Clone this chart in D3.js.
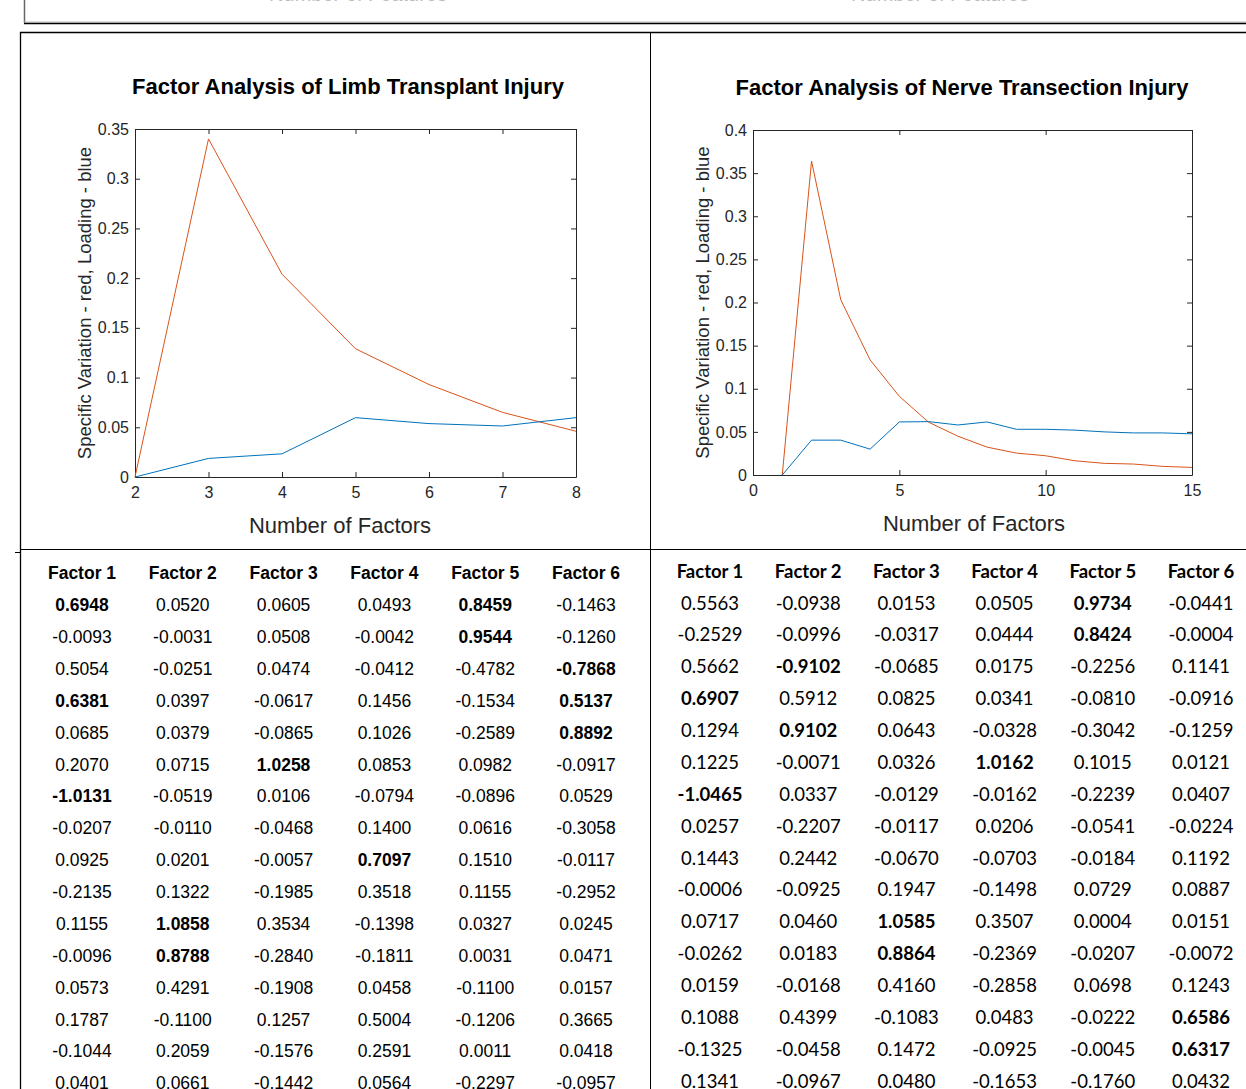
<!DOCTYPE html>
<meta charset="utf-8">
<script src="https://d3js.org/d3.v7.min.js"></script>
<style>
  body { margin: 0; background: #fff; }
  svg { display: block; }
  .tick text { fill: #262626; }
</style>
<body>
<div id="fig"></div>
<script>

// ---- chart data ----
var limbFactors = [2, 3, 4, 5, 6, 7, 8];
var limbSpecVar = [0, 0.340, 0.204, 0.129, 0.093, 0.065, 0.046];
var limbLoading = [0, 0.0187, 0.0233, 0.0597, 0.0537, 0.0513, 0.0597];
var limbXTicks = [2, 3, 4, 5, 6, 7, 8];
var limbYTicks = [0, 0.05, 0.1, 0.15, 0.2, 0.25, 0.3, 0.35];

var nerveFactors = [1, 2, 3, 4, 5, 6, 7, 8, 9, 10, 11, 12, 13, 14, 15];
var nerveSpecVar = [0, 0.364, 0.203, 0.1335, 0.0912, 0.0612, 0.045, 0.0323, 0.0254, 0.0223, 0.0165, 0.0135, 0.0127, 0.0100, 0.0088];
var nerveLoading = [0, 0.0404, 0.0404, 0.030, 0.0615, 0.0619, 0.058, 0.0615, 0.053, 0.053, 0.052, 0.050, 0.0488, 0.0488, 0.0477];
var nerveXTicks = [0, 5, 10, 15];
var nerveYTicks = [0, 0.05, 0.1, 0.15, 0.2, 0.25, 0.3, 0.35, 0.4];

// ---- table data ----
var tableHeaders = ["Factor 1", "Factor 2", "Factor 3", "Factor 4", "Factor 5", "Factor 6"];

var limbTable = [
  ["0.6948", "0.0520", "0.0605", "0.0493", "0.8459", "-0.1463"],
  ["-0.0093", "-0.0031", "0.0508", "-0.0042", "0.9544", "-0.1260"],
  ["0.5054", "-0.0251", "0.0474", "-0.0412", "-0.4782", "-0.7868"],
  ["0.6381", "0.0397", "-0.0617", "0.1456", "-0.1534", "0.5137"],
  ["0.0685", "0.0379", "-0.0865", "0.1026", "-0.2589", "0.8892"],
  ["0.2070", "0.0715", "1.0258", "0.0853", "0.0982", "-0.0917"],
  ["-1.0131", "-0.0519", "0.0106", "-0.0794", "-0.0896", "0.0529"],
  ["-0.0207", "-0.0110", "-0.0468", "0.1400", "0.0616", "-0.3058"],
  ["0.0925", "0.0201", "-0.0057", "0.7097", "0.1510", "-0.0117"],
  ["-0.2135", "0.1322", "-0.1985", "0.3518", "0.1155", "-0.2952"],
  ["0.1155", "1.0858", "0.3534", "-0.1398", "0.0327", "0.0245"],
  ["-0.0096", "0.8788", "-0.2840", "-0.1811", "0.0031", "0.0471"],
  ["0.0573", "0.4291", "-0.1908", "0.0458", "-0.1100", "0.0157"],
  ["0.1787", "-0.1100", "0.1257", "0.5004", "-0.1206", "0.3665"],
  ["-0.1044", "0.2059", "-0.1576", "0.2591", "0.0011", "0.0418"],
  ["0.0401", "0.0661", "-0.1442", "0.0564", "-0.2297", "-0.0957"]
];
// [row, column] of the highlighted loadings
var limbBold = [[0, 0], [0, 4], [1, 4], [2, 5], [3, 0], [3, 5], [4, 5], [5, 2], [6, 0], [8, 3], [10, 1], [11, 1]];

var nerveTable = [
  ["0.5563", "-0.0938", "0.0153", "0.0505", "0.9734", "-0.0441"],
  ["-0.2529", "-0.0996", "-0.0317", "0.0444", "0.8424", "-0.0004"],
  ["0.5662", "-0.9102", "-0.0685", "0.0175", "-0.2256", "0.1141"],
  ["0.6907", "0.5912", "0.0825", "0.0341", "-0.0810", "-0.0916"],
  ["0.1294", "0.9102", "0.0643", "-0.0328", "-0.3042", "-0.1259"],
  ["0.1225", "-0.0071", "0.0326", "1.0162", "0.1015", "0.0121"],
  ["-1.0465", "0.0337", "-0.0129", "-0.0162", "-0.2239", "0.0407"],
  ["0.0257", "-0.2207", "-0.0117", "0.0206", "-0.0541", "-0.0224"],
  ["0.1443", "0.2442", "-0.0670", "-0.0703", "-0.0184", "0.1192"],
  ["-0.0006", "-0.0925", "0.1947", "-0.1498", "0.0729", "0.0887"],
  ["0.0717", "0.0460", "1.0585", "0.3507", "0.0004", "0.0151"],
  ["-0.0262", "0.0183", "0.8864", "-0.2369", "-0.0207", "-0.0072"],
  ["0.0159", "-0.0168", "0.4160", "-0.2858", "0.0698", "0.1243"],
  ["0.1088", "0.4399", "-0.1083", "0.0483", "-0.0222", "0.6586"],
  ["-0.1325", "-0.0458", "0.1472", "-0.0925", "-0.0045", "0.6317"],
  ["0.1341", "-0.0967", "0.0480", "-0.1653", "-0.1760", "0.0432"]
];
var nerveBold = [[0, 4], [1, 4], [2, 1], [3, 0], [4, 1], [5, 3], [6, 0], [10, 2], [11, 2], [13, 5], [14, 5]];

var W = 1246, H = 1089;
var blue = "#0072BD", red = "#D95319", axisCol = "#262626";

var svg = d3.select("#fig").append("svg")
  .attr("width", W).attr("height", H);

// ---- frame lines of the figure panel ----
// the cut-off panel above
svg.append("text").attr("x", 358).attr("y", 1).attr("text-anchor", "middle")
  .style("font", "20px 'Liberation Sans', Arial").style("fill", "#bbb").text("Number of Features");
svg.append("text").attr("x", 940).attr("y", 1).attr("text-anchor", "middle")
  .style("font", "20px 'Liberation Sans', Arial").style("fill", "#bbb").text("Number of Features");
svg.append("line").attr("x1", 24.5).attr("x2", 24.5).attr("y1", 0).attr("y2", 23)
  .attr("stroke", "#666").attr("stroke-width", 1.5);
svg.append("line").attr("x1", 24).attr("x2", W).attr("y1", 22).attr("y2", 22)
  .attr("stroke", "#bbb").attr("stroke-width", 1);
svg.append("line").attr("x1", 24).attr("x2", W).attr("y1", 23.5).attr("y2", 23.5)
  .attr("stroke", "#000").attr("stroke-width", 1.5);

svg.append("line").attr("x1", 20).attr("x2", W).attr("y1", 32.5).attr("y2", 32.5)
  .attr("stroke", "#000").attr("stroke-width", 1.5);
svg.append("line").attr("x1", 20.5).attr("x2", 20.5).attr("y1", 32).attr("y2", H)
  .attr("stroke", "#000").attr("stroke-width", 1.3);
svg.append("line").attr("x1", 650.5).attr("x2", 650.5).attr("y1", 32).attr("y2", H)
  .attr("stroke", "#000").attr("stroke-width", 1);
svg.append("line").attr("x1", 20).attr("x2", W).attr("y1", 549.5).attr("y2", 549.5)
  .attr("stroke", "#000").attr("stroke-width", 1.2);
svg.append("line").attr("x1", 15).attr("x2", 20).attr("y1", 552.5).attr("y2", 552.5)
  .attr("stroke", "#000").attr("stroke-width", 1);

// ---- line charts ----
function drawChart(cfg) {
  var x = d3.scaleLinear().domain(cfg.xDomain).range([cfg.left, cfg.right]);
  var y = d3.scaleLinear().domain(cfg.yDomain).range([cfg.bottom, cfg.top]);
  var g = svg.append("g");
  var fmt = function(d) { return String(+d.toFixed(2)); };

  g.append("g").attr("transform", "translate(0," + cfg.bottom + ")")
    .call(d3.axisBottom(x).tickValues(cfg.xTicks).tickSize(-5).tickSizeOuter(0).tickPadding(10).tickFormat(fmt));
  g.append("g").attr("transform", "translate(" + cfg.left + ",0)")
    .call(d3.axisLeft(y).tickValues(cfg.yTicks).tickSize(-5).tickSizeOuter(0).tickPadding(6).tickFormat(fmt));
  g.append("g").attr("transform", "translate(0," + cfg.top + ")")
    .call(d3.axisTop(x).tickValues(cfg.xTicks).tickSize(-5).tickSizeOuter(0).tickFormat(""));
  g.append("g").attr("transform", "translate(" + cfg.right + ",0)")
    .call(d3.axisRight(y).tickValues(cfg.yTicks).tickSize(-5).tickSizeOuter(0).tickFormat(""));

  g.selectAll(".domain, .tick line").attr("stroke", axisCol).attr("stroke-width", 1);
  g.selectAll(".tick text").style("font", "16px 'Liberation Sans', Arial");

  var line = d3.line().x(function(d) { return x(d[0]); }).y(function(d) { return y(d[1]); });
  g.append("path").datum(d3.zip(cfg.xs, cfg.specVar))
    .attr("d", line).attr("fill", "none").attr("stroke", red).attr("stroke-width", 1);
  g.append("path").datum(d3.zip(cfg.xs, cfg.loading))
    .attr("d", line).attr("fill", "none").attr("stroke", blue).attr("stroke-width", 1);

  g.append("text").attr("x", cfg.titleX).attr("y", cfg.top - 35).attr("text-anchor", "middle")
    .style("font", "bold 22px 'Liberation Sans', Arial").style("fill", "#000").text(cfg.title);
  g.append("text").attr("x", cfg.xLabelX).attr("y", cfg.bottom + 56).attr("text-anchor", "middle")
    .style("font", "22px 'Liberation Sans', Arial").style("fill", axisCol).text("Number of Factors");
  g.append("text")
    .attr("transform", "translate(" + (cfg.left - 44) + "," + ((cfg.top + cfg.bottom) / 2) + ") rotate(-90)")
    .attr("text-anchor", "middle")
    .style("font", "18.5px 'Liberation Sans', Arial").style("fill", axisCol)
    .text("Specific Variation - red, Loading - blue");
}

drawChart({
  left: 135, right: 576, top: 129, bottom: 477,
  xDomain: [2, 8], yDomain: [0, 0.35],
  xTicks: limbXTicks, yTicks: limbYTicks,
  xs: limbFactors, specVar: limbSpecVar, loading: limbLoading,
  title: "Factor Analysis of Limb Transplant Injury", titleX: 348, xLabelX: 340
});

drawChart({
  left: 753, right: 1192, top: 130, bottom: 475,
  xDomain: [0, 15], yDomain: [0, 0.4],
  xTicks: nerveXTicks, yTicks: nerveYTicks,
  xs: nerveFactors, specVar: nerveSpecVar, loading: nerveLoading,
  title: "Factor Analysis of Nerve Transection Injury", titleX: 962, xLabelX: 974
});

// ---- loading tables ----
function drawTable(cfg) {
  var col = d3.scalePoint().domain(d3.range(tableHeaders.length)).range(cfg.cols);
  var row = d3.scalePoint().domain(d3.range(cfg.rows.length + 1)).range(cfg.rowsY);
  var boldSet = new Set(cfg.bold.map(function(b) { return b[0] + "," + b[1]; }));
  var g = svg.append("g").style("font-family", cfg.font).style("font-size", cfg.size + "px");

  g.selectAll("text.hdr").data(tableHeaders).enter().append("text")
    .attr("class", "hdr")
    .attr("x", function(d, i) { return col(i); })
    .attr("y", row(0)).attr("dy", "0.36em")
    .attr("text-anchor", "middle").style("font-weight", "bold")
    .text(function(d) { return d; });

  var cells = [];
  cfg.rows.forEach(function(r, ri) {
    r.forEach(function(v, ci) { cells.push({ r: ri, c: ci, v: v }); });
  });
  g.selectAll("text.cell").data(cells).enter().append("text")
    .attr("class", "cell")
    .attr("x", function(d) { return col(d.c); })
    .attr("y", function(d) { return row(d.r + 1); }).attr("dy", "0.36em")
    .attr("text-anchor", "middle")
    .style("font-weight", function(d) { return boldSet.has(d.r + "," + d.c) ? "bold" : "normal"; })
    .text(function(d) { return d.v; });
}

drawTable({
  rows: limbTable, bold: limbBold,
  cols: [82, 586], rowsY: [573, 1083],
  font: "'Liberation Sans', Arial", size: 17.5
});

drawTable({
  rows: nerveTable, bold: nerveBold,
  cols: [710, 1201], rowsY: [571, 1081],
  font: "Lato, 'Open Sans', sans-serif", size: 18.5
});

</script>
</body>
